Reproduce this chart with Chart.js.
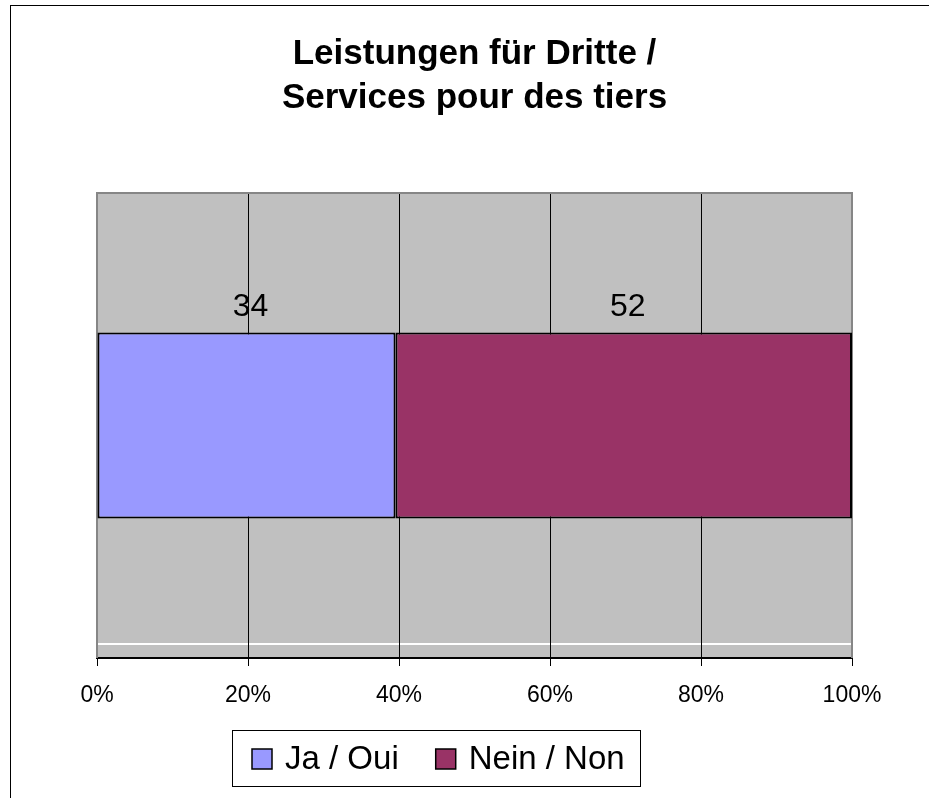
<!DOCTYPE html>
<html>
<head>
<meta charset="utf-8">
<script src="https://cdn.jsdelivr.net/npm/chart.js@4"></script>
<style>
  html, body { margin: 0; padding: 0; background: #fff; }
  canvas { display: block; }
</style>
</head>
<body>
<canvas id="chart" width="929" height="798"></canvas>
<script>
// values
const categories = ['Leistungen für Dritte']
const seriesNames = ['Ja / Oui', 'Nein / Non']
const jaValues = [34]
const neinValues = [52]
const tickValues = [0, 20, 40, 60, 80, 100]
const titleLines = ['Leistungen für Dritte /', 'Services pour des tiers']

const FONT = "Arial, 'Liberation Sans', sans-serif"

// 100% stacked: share of each category total
const totals = categories.map((c, i) => jaValues[i] + neinValues[i])
const toPct = (arr) => arr.map((v, i) => v / totals[i] * 100)

// frame, plot background and the odd white line near the bottom
const backdrop = {
  id: 'backdrop',
  beforeDraw(chart) {
    const { ctx, chartArea: a } = chart
    ctx.save()
    ctx.fillStyle = '#fff'
    ctx.fillRect(0, 0, chart.width, chart.height)
    ctx.strokeStyle = '#000'
    ctx.lineWidth = 1
    ctx.strokeRect(10.5, 5.5, chart.width + 20, chart.height + 20)
    ctx.fillStyle = '#c0c0c0'
    ctx.fillRect(a.left, a.top, a.right - a.left, a.bottom - a.top)
    ctx.strokeStyle = '#fff'
    ctx.lineWidth = 2
    ctx.beginPath()
    ctx.moveTo(a.left, a.bottom - 14)
    ctx.lineTo(a.right, a.bottom - 14)
    ctx.stroke()
    ctx.restore()
  },
  beforeDatasetsDraw(chart) {
    const { ctx, chartArea: a } = chart
    ctx.save()
    ctx.strokeStyle = '#868686'
    ctx.lineWidth = 2
    ctx.beginPath()
    ctx.moveTo(a.left, a.bottom)
    ctx.lineTo(a.left, a.top)
    ctx.lineTo(a.right, a.top)
    ctx.lineTo(a.right, a.bottom)
    ctx.stroke()
    ctx.restore()
  }
}

// raw counts above each segment
const valueLabels = {
  id: 'valueLabels',
  afterDatasetsDraw(chart) {
    const { ctx } = chart
    ctx.save()
    ctx.font = '32px ' + FONT
    ctx.fillStyle = '#000'
    ctx.textAlign = 'center'
    ctx.textBaseline = 'alphabetic'
    const raw = [jaValues, neinValues]
    chart.data.datasets.forEach((ds, di) => {
      chart.getDatasetMeta(di).data.forEach((bar, i) => {
        const x = (bar.x + bar.base) / 2 + 4
        const y = bar.y - bar.height / 2 - 17
        ctx.fillText(String(raw[di][i]), x, y)
      })
    })
    ctx.restore()
  }
}

// boxed legend under the axis
const boxLegend = {
  id: 'boxLegend',
  afterDraw(chart) {
    const { ctx } = chart
    ctx.save()
    ctx.strokeStyle = '#000'
    ctx.lineWidth = 1
    ctx.strokeRect(232.5, 730.5, 408, 56)
    ctx.font = '33px ' + FONT
    ctx.textBaseline = 'alphabetic'
    let x = 252
    chart.data.datasets.forEach((ds) => {
      ctx.fillStyle = ds.backgroundColor
      ctx.fillRect(x, 749, 20, 20)
      ctx.lineWidth = 1.5
      ctx.strokeRect(x, 749, 20, 20)
      ctx.fillStyle = '#000'
      ctx.fillText(ds.label, x + 33, 769)
      x += 33 + ctx.measureText(ds.label).width + 37
    })
    ctx.restore()
  }
}

new Chart(document.getElementById('chart'), {
  type: 'bar',
  data: {
    labels: categories,
    datasets: [
      {
        label: seriesNames[0],
        data: toPct(jaValues),
        backgroundColor: '#9999ff',
        borderColor: '#000',
        borderWidth: 2,
        borderSkipped: false,
        barPercentage: 0.4,
        categoryPercentage: 1
      },
      {
        label: seriesNames[1],
        data: toPct(neinValues),
        backgroundColor: '#993366',
        borderColor: '#000',
        borderWidth: 2,
        borderSkipped: false,
        barPercentage: 0.4,
        categoryPercentage: 1
      }
    ]
  },
  options: {
    indexAxis: 'y',
    responsive: false,
    devicePixelRatio: 1,
    animation: false,
    layout: { padding: { left: 97, right: 77, top: 0, bottom: 80 } },
    scales: {
      x: {
        stacked: true,
        min: 0,
        max: 100,
        afterBuildTicks: (scale) => {
          scale.ticks = tickValues.map(v => ({ value: v }))
        },
        afterFit: (scale) => { scale.height = 60 },
        ticks: {
          callback: (v) => v + '%',
          color: '#000',
          font: { family: FONT, size: 23 },
          padding: 16,
          maxRotation: 0
        },
        grid: { color: '#000', lineWidth: 1, tickLength: 8 },
        border: { color: '#000', width: 2 }
      },
      y: {
        stacked: true,
        display: false
      }
    },
    plugins: {
      legend: { display: false },
      tooltip: { enabled: false },
      title: {
        display: true,
        text: titleLines,
        color: '#000',
        font: { family: FONT, size: 35, weight: 'bold', lineHeight: 1.243 },
        padding: { top: 33, bottom: 73 }
      }
    }
  },
  plugins: [backdrop, valueLabels, boxLegend]
})
</script>
</body>
</html>
